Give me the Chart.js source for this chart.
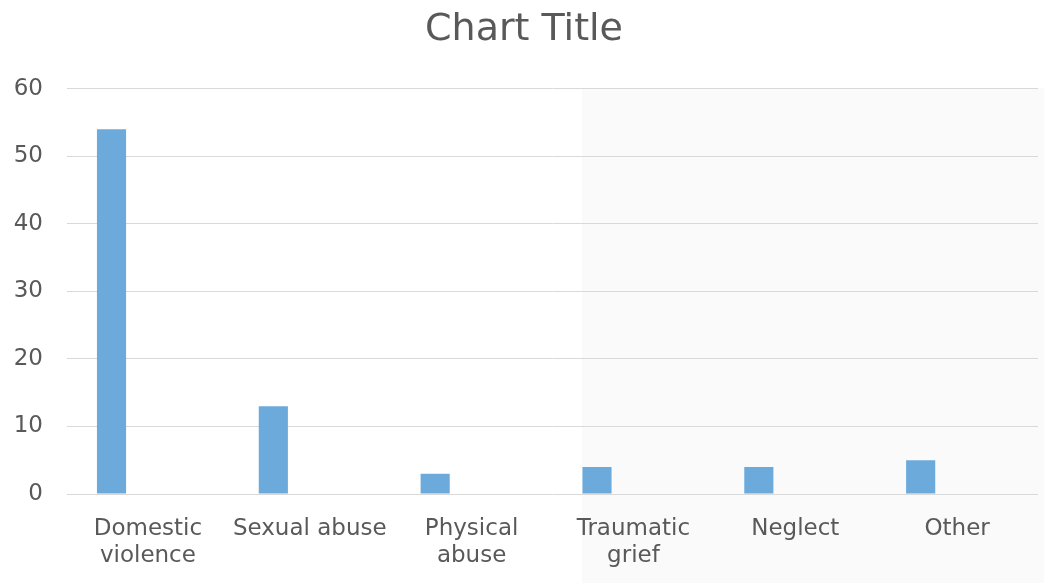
<!DOCTYPE html>
<html>
<head>
<meta charset="utf-8">
<script src="https://cdn.jsdelivr.net/npm/chart.js@4/dist/chart.umd.min.js"></script>
<style>
  html, body { margin: 0; padding: 0; background: #fff; }
  #wrap { width: 1044px; height: 583px; position: relative; }
</style>
</head>
<body>
<div id="wrap"><canvas id="chart"></canvas></div>
<script>
const categories = [
  ["Domestic", "violence"],
  "Sexual abuse",
  ["Physical", "abuse"],
  ["Traumatic", "grief"],
  "Neglect",
  "Other"
];
const seriesValues = [54, 13, 3, 4, 4, 5];
const emptySeries = [null, null, null, null, null, null];
const yTicks = [0, 10, 20, 30, 40, 50, 60];

// faint grey panel on the right side of the original screenshot
const shadePanel = {
  id: "shadePanel",
  beforeDraw(chart) {
    const c = chart.ctx;
    c.save();
    c.fillStyle = "#fafafa";
    c.fillRect(582, 88, chart.width - 582, chart.height - 88);
    c.restore();
  }
};

const font = "'DejaVu Sans', 'Open Sans', sans-serif";

new Chart(document.getElementById("chart"), {
  type: "bar",
  data: {
    labels: categories,
    datasets: [
      {
        label: "Series 1",
        data: seriesValues,
        backgroundColor: "#6caadc",
        categoryPercentage: 0.9,
        barPercentage: 0.4
      },
      {
        label: "Series 2",
        data: emptySeries,
        backgroundColor: "#6caadc",
        categoryPercentage: 0.9,
        barPercentage: 0.4
      }
    ]
  },
  options: {
    responsive: true,
    maintainAspectRatio: false,
    animation: false,
    layout: { padding: { left: 10, right: 6, top: 0, bottom: 0 } },
    plugins: {
      legend: { display: false },
      tooltip: { enabled: false },
      title: {
        display: true,
        text: "Chart Title",
        color: "#595959",
        font: { family: font, size: 38, weight: "normal" },
        padding: { top: 7, bottom: 36 }
      }
    },
    scales: {
      x: {
        grid: { display: false, drawTicks: false },
        border: { display: false },
        ticks: {
          color: "#595959",
          font: { family: font, size: 23, lineHeight: 1.17 },
          padding: 22,
          maxRotation: 0,
          autoSkip: false
        },
        afterFit(scale) { scale.height = 89; }
      },
      y: {
        min: 0,
        max: 60,
        afterBuildTicks(scale) { scale.ticks = yTicks.map(v => ({ value: v })); },
        grid: { color: "#d9d9d9", drawTicks: false, lineWidth: 1 },
        border: { display: false },
        ticks: {
          color: "#595959",
          font: { family: font, size: 23 },
          padding: 24
        },
        afterFit(scale) { scale.width = 57; }
      }
    }
  },
  plugins: [shadePanel]
});
</script>
</body>
</html>
